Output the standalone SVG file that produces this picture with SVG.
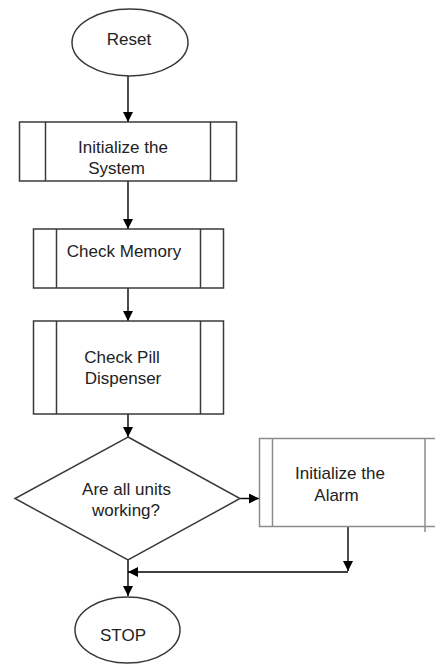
<svg xmlns="http://www.w3.org/2000/svg" width="435" height="664" viewBox="0 0 435 664">
<defs>
<marker id="ah" markerUnits="userSpaceOnUse" markerWidth="10" markerHeight="10" viewBox="0 0 10 10" refX="10" refY="5" orient="auto">
<path d="M0,0 L10,5 L0,10 z" fill="#000"/>
</marker>
</defs>
<style>
.shape{fill:#fff;stroke:#3a3a3a;stroke-width:1.5}
.grey{fill:#fff;stroke:#8c8c8c;stroke-width:1.5}
.lbl{font-family:"Liberation Sans",Arial,sans-serif;font-size:17px;fill:#222;text-anchor:middle}
.conn{stroke:#000;stroke-width:1.4;fill:none}
</style>
<rect width="435" height="664" fill="#fff"/>
<g id="connectors">
<line class="conn" x1="128" y1="76" x2="128" y2="122" marker-end="url(#ah)"/>
<line class="conn" x1="128" y1="181" x2="128" y2="229" marker-end="url(#ah)"/>
<line class="conn" x1="128" y1="288" x2="128" y2="321" marker-end="url(#ah)"/>
<line class="conn" x1="128" y1="414" x2="128" y2="437" marker-end="url(#ah)"/>
<line class="conn" x1="240" y1="498.5" x2="259" y2="498.5" marker-end="url(#ah)"/>
<line class="conn" x1="348" y1="527" x2="348" y2="571" marker-end="url(#ah)"/>
<line class="conn" x1="348" y1="572" x2="128" y2="572" marker-end="url(#ah)"/>
<line class="conn" x1="128" y1="560" x2="128" y2="596" marker-end="url(#ah)"/>
</g>
<g id="reset">
<ellipse class="shape" cx="130" cy="42.5" rx="58" ry="33.5"/>
<text class="lbl" x="129" y="45">Reset</text>
</g>
<g id="init-system">
<rect class="shape" x="19.5" y="122" width="217" height="59"/>
<line class="shape" x1="45.5" y1="122" x2="45.5" y2="181"/>
<line class="shape" x1="210.5" y1="122" x2="210.5" y2="181"/>
<text class="lbl" x="123" y="153">Initialize the</text>
<text class="lbl" x="116.5" y="174">System</text>
</g>
<g id="check-memory">
<rect class="shape" x="33.5" y="229" width="190" height="59"/>
<line class="shape" x1="56.5" y1="229" x2="56.5" y2="288"/>
<line class="shape" x1="200.5" y1="229" x2="200.5" y2="288"/>
<text class="lbl" x="124" y="257">Check Memory</text>
</g>
<g id="check-pill">
<rect class="shape" x="33.5" y="321" width="190" height="93"/>
<line class="shape" x1="56.5" y1="321" x2="56.5" y2="414"/>
<line class="shape" x1="200.5" y1="321" x2="200.5" y2="414"/>
<text class="lbl" x="122" y="363">Check Pill</text>
<text class="lbl" x="123" y="384">Dispenser</text>
</g>
<g id="decision">
<polygon class="shape" points="128,437 240,498.5 128,560 15,498.5"/>
<text class="lbl" x="126.5" y="495">Are all units</text>
<text class="lbl" x="126" y="516">working?</text>
</g>
<g id="init-alarm">
<path class="grey" d="M436,438.5 L259.5,438.5 L259.5,526.5 L436,526.5"/>
<line class="grey" x1="272.5" y1="438.5" x2="272.5" y2="526.5"/>
<line class="grey" x1="425" y1="438.5" x2="425" y2="532"/>
<text class="lbl" x="340" y="479">Initialize the</text>
<text class="lbl" x="336.5" y="501">Alarm</text>
</g>
<g id="stop">
<ellipse class="shape" cx="127.5" cy="630" rx="52.5" ry="33"/>
<text class="lbl" x="123" y="641">STOP</text>
</g>
</svg>
